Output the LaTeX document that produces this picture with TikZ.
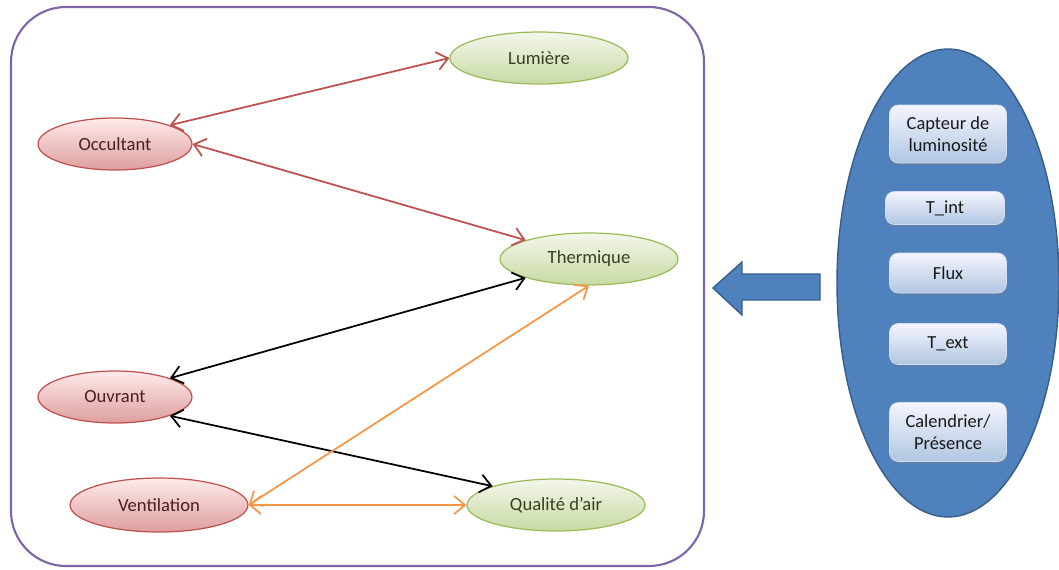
\documentclass[tikz,border=0pt]{standalone}
\usepackage{fontspec}
\setmainfont{Carlito}
\usetikzlibrary{shapes.geometric,arrows.meta,shadows}
\definecolor{cadre}{HTML}{7E64A8}
\definecolor{rouge}{HTML}{C0504D}
\definecolor{vert}{HTML}{9BBB59}
\definecolor{orange}{HTML}{F79646}
\definecolor{bleu}{HTML}{4F81BD}
\definecolor{bleufonce}{HTML}{385D8A}
\begin{document}
\begin{tikzpicture}[x=0.02cm,y=-0.02cm,
	>={Straight Barb[length=2.2mm,width=3.6mm]},
	actionneur/.style={ellipse,draw=rouge,line width=0.7pt,top color=red!8,bottom color=rouge!55,
		text=rouge!40!black,minimum width=3.08cm,minimum height=1.04cm,inner sep=0pt,font=\fontsize{10.6}{12}\selectfont},
	usage/.style={ellipse,draw=vert,line width=0.7pt,top color=vert!12,bottom color=vert!55,
		text=vert!35!black,minimum width=3.56cm,minimum height=1.04cm,inner sep=0pt,font=\fontsize{10.6}{12}\selectfont},
	capteur/.style={rectangle,rounded corners=5pt,draw=bleu!25,top color=blue!4,bottom color=bleu!45,
		drop shadow={opacity=0.35,shadow xshift=0.4pt,shadow yshift=-1.2pt},
		text=black!90,minimum width=2.34cm,inner sep=0pt,align=center,font=\fontsize{10.5}{12.5}\selectfont},
	lien/.style={<->,line width=1pt}]
	\useasboundingbox (0,0) rectangle (1059,569);
	\draw[cadre,line width=1.2pt,rounded corners=1.1cm] (11,7) rectangle (704,566);
	\node[usage] (lum) at (539,58) {Lumière};
	\node[usage] (therm) at (589,259) {Thermique};
	\node[usage] (qual) at (556,505) {Qualité d’air};
	\node[actionneur] (occ) at (115,144) {Occultant};
	\node[actionneur] (ouv) at (115,397) {Ouvrant};
	\node[actionneur,minimum width=3.56cm,minimum height=1.08cm] (vent) at (159,505) {Ventilation};
	\draw[lien,rouge] (occ.north east) -- (lum.west);
	\draw[lien,rouge] (occ.east) -- (therm.north west);
	\draw[lien,black] (therm.south west) -- (ouv.north east);
	\draw[lien,black] (ouv.south east) -- (qual.north west);
	\draw[lien,orange] (therm.south) -- (vent.east);
	\draw[lien,orange] (vent.east) -- (qual.west);
	\draw[fill=bleu,draw=bleufonce,line width=0.8pt] (713,288) -- (742,262) -- (742,274) -- (820,274)
		-- (820,300) -- (742,300) -- (742,315) -- cycle;
	\draw[fill=bleu,draw=bleufonce,line width=0.8pt] (948,283) ellipse (111 and 234);
	\node[capteur,minimum height=1.16cm] (lumino) at (948,134) {Capteur de\\luminosité};
	\node[capteur,minimum height=0.66cm,minimum width=2.38cm] (tint) at (945,208) {T\_int};
	\node[capteur,minimum height=0.80cm] (flux) at (948,273) {Flux};
	\node[capteur,minimum height=0.82cm] (text) at (948,344) {T\_ext};
	\node[capteur,minimum height=1.18cm] (cal) at (948,432) {Calendrier/\\Présence};
\end{tikzpicture}
\end{document}
